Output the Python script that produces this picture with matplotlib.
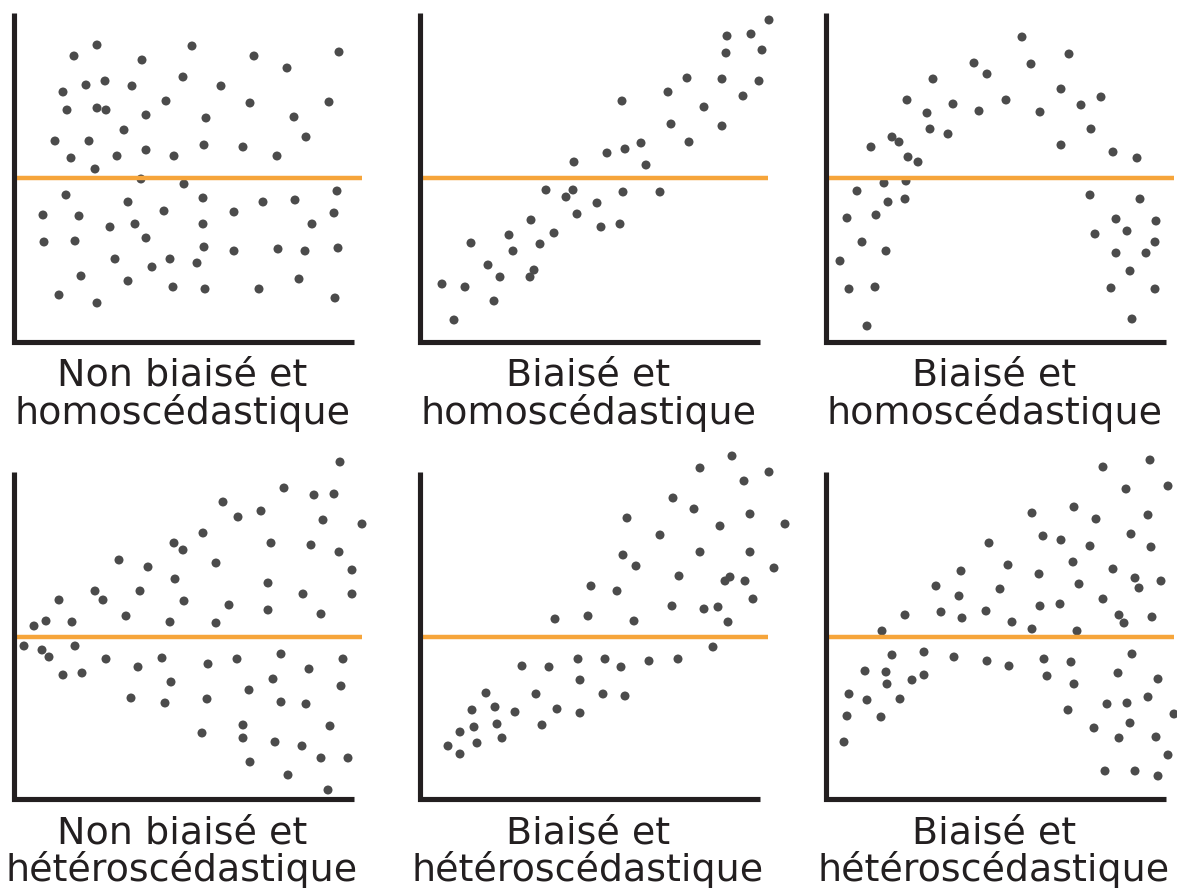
import matplotlib
matplotlib.use('Agg')
import matplotlib.pyplot as plt
import numpy as np

# point positions (x from the y-axis, y up from the x-axis)
p1_x = [83, 60, 128, 178, 72, 91, 118, 169, 49, 152, 53, 83, 92, 132, 110, 41, 75, 132, 57, 103,
        160, 81, 127, 170, 52, 114, 150, 29, 65, 121, 96, 30, 61, 132, 101, 156, 138, 67, 114, 159,
        45, 83, 240, 325, 273, 207, 236, 315, 192, 280, 292, 190, 229, 263, 189, 323, 249, 281, 220, 320,
        189, 298, 190, 220, 264, 291, 324, 183, 285, 191, 245, 321]
p1_y = [297, 286, 282, 296, 257, 261, 256, 265, 250, 241, 232, 234, 232, 227, 212, 201, 201, 192, 184, 186,
        186, 173, 163, 158, 147, 140, 131, 127, 126, 118, 115, 100, 101, 104, 83, 83, 75, 66, 61, 55,
        47, 39, 286, 290, 274, 256, 239, 240, 224, 225, 205, 197, 195, 186, 144, 151, 140, 142, 130, 129,
        118, 118, 95, 91, 93, 91, 94, 79, 63, 53, 53, 44]

p2_x = [154, 126, 153, 146, 177, 157, 111, 89, 134, 51, 120, 93, 68, 114, 80, 110, 22, 45, 74, 34,
        349, 307, 331, 306, 342, 267, 302, 339, 248, 202, 323, 284, 251, 302, 187, 205, 221, 269, 226, 203,
        240, 181, 200]
p2_y = [180, 152, 152, 145, 139, 128, 122, 107, 109, 99, 98, 91, 77, 72, 65, 65, 58, 55, 41, 22,
        322, 306, 308, 289, 292, 264, 263, 261, 250, 241, 246, 235, 218, 216, 189, 193, 199, 200, 177, 150,
        150, 115, 118]

p3_x = [148, 161, 107, 81, 127, 153, 101, 104, 122, 66, 73, 45, 82, 92, 80, 58, 31, 62, 79, 21,
        50, 36, 60, 14, 23, 49, 41, 196, 243, 205, 235, 180, 275, 255, 214, 265, 235, 287, 311, 264,
        314, 290, 330, 301, 269, 329, 290, 320, 304, 285, 329, 306]
p3_y = [279, 268, 263, 242, 238, 231, 229, 213, 208, 205, 200, 195, 185, 180, 161, 159, 151, 140, 143, 124,
        127, 100, 91, 81, 53, 55, 16, 305, 288, 278, 253, 242, 245, 237, 230, 213, 197, 190, 184, 147,
        143, 123, 121, 111, 108, 100, 89, 89, 71, 54, 53, 23]

p4_x = [160, 169, 105, 134, 161, 81, 126, 45, 89, 170, 112, 20, 32, 58, 156, 10, 28, 35, 61, 92,
        148, 124, 49, 68, 157, 117, 151, 326, 270, 300, 320, 209, 224, 247, 309, 348, 189, 257, 297, 325,
        202, 338, 254, 289, 338, 215, 254, 307, 202, 194, 223, 267, 329, 295, 259, 235, 327, 193, 267, 292,
        229, 316, 188, 229, 261, 288, 236, 307, 334, 274, 314]
p4_y = [256, 249, 239, 232, 220, 208, 208, 199, 199, 198, 183, 173, 178, 177, 177, 153, 149, 142, 153, 140,
        141, 132, 124, 126, 117, 101, 96, 337, 311, 304, 305, 297, 282, 288, 279, 275, 266, 256, 254, 247,
        236, 229, 216, 205, 205, 194, 189, 185, 176, 135, 140, 145, 140, 130, 120, 109, 113, 100, 97, 95,
        74, 73, 66, 61, 57, 53, 37, 41, 41, 24, 9]

p5_x = [171, 135, 168, 102, 129, 158, 160, 66, 116, 52, 75, 95, 137, 160, 40, 54, 77, 122, 28, 40,
        57, 82, 312, 280, 349, 324, 253, 274, 330, 207, 300, 365, 240, 203, 280, 330, 216, 354, 259, 305,
        310, 325, 197, 333, 252, 284, 298, 214, 308, 293, 185, 201, 229, 258, 183, 205]
p5_y = [213, 180, 183, 133, 132, 140, 119, 106, 105, 89, 92, 87, 90, 86, 67, 72, 75, 74, 53, 45,
        56, 61, 343, 331, 327, 318, 301, 290, 285, 281, 273, 275, 264, 244, 247, 247, 233, 231, 223, 218,
        222, 218, 208, 200, 193, 190, 192, 178, 177, 152, 140, 132, 138, 140, 105, 103]

p6_x = [163, 135, 174, 110, 133, 79, 115, 136, 160, 56, 66, 98, 128, 161, 39, 60, 61, 86, 98, 23,
        41, 74, 21, 55, 18, 324, 277, 300, 342, 206, 248, 270, 322, 217, 235, 264, 305, 325, 182, 247,
        287, 213, 309, 313, 335, 253, 277, 214, 234, 293, 298, 326, 186, 206, 251, 306, 183, 218, 245, 221,
        292, 248, 332, 322, 281, 301, 242, 348, 304, 268, 293, 330, 342, 279, 309, 332]
p6_y = [256, 228, 210, 213, 203, 184, 187, 181, 188, 168, 144, 147, 142, 138, 128, 127, 115, 119, 124, 105,
        99, 100, 83, 82, 57, 339, 332, 310, 313, 286, 292, 280, 284, 263, 259, 253, 265, 252, 234, 237,
        230, 225, 221, 211, 218, 215, 200, 193, 195, 184, 176, 182, 177, 170, 168, 145, 133, 140, 137, 123,
        126, 115, 120, 102, 95, 96, 89, 85, 76, 71, 61, 62, 44, 28, 28, 23]

titles = [("Non biaisé et", "homoscédastique"),
          ("Biaisé et", "homoscédastique"),
          ("Biaisé et", "homoscédastique"),
          ("Non biaisé et", "hétéroscédastique"),
          ("Biaisé et", "hétéroscédastique"),
          ("Biaisé et", "hétéroscédastique")]
mean_level = [164, 164, 164, 162, 162, 162]

xs = [p1_x, p2_x, p3_x, p4_x, p5_x, p6_x]
ys = [p1_y, p2_y, p3_y, p4_y, p5_y, p6_y]

W, H = 1177, 888
fig = plt.figure(figsize=(W / 100, H / 100), dpi=100)

# axis origins in pixels (from top-left of the image)
origins = [(14, 342), (420, 342), (826, 342), (14, 799), (420, 799), (826, 799)]
axis_top = [329, 329, 329, 327, 327, 327]
pw, ph = 360, 345

dark = '#231f20'
dot = '#4b4b4b'
orange = '#f6a53b'

for i in range(6):
    ox, oy = origins[i]
    ax = fig.add_axes([ox / W, (H - oy) / H, pw / W, ph / H])
    ax.set_xlim(0, pw)
    ax.set_ylim(0, ph)
    ax.axis('off')
    ax.scatter(xs[i], ys[i], s=42, color=dot, edgecolors='none', zorder=2, clip_on=False)
    ax.plot([0, 348], [mean_level[i], mean_level[i]], color=orange, lw=3.2, zorder=3,
            solid_capstyle='butt', clip_on=False)
    ax.plot([0, 0, 340], [axis_top[i], 0, 0], color=dark, lw=3.7, zorder=4,
            solid_joinstyle='miter', solid_capstyle='butt', clip_on=False)
    ax.text(168, -44, titles[i][0], ha='center', va='baseline', fontsize=27.4,
            color=dark, clip_on=False)
    ax.text(168, -82, titles[i][1], ha='center', va='baseline', fontsize=27.4,
            color=dark, clip_on=False)

fig.savefig('out.png', dpi=100)
